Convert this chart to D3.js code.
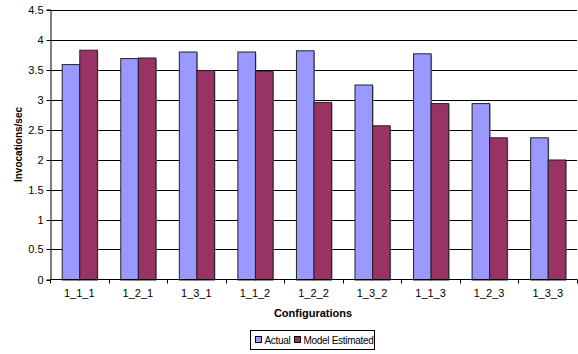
<!DOCTYPE html>
<html>
<head>
<meta charset="utf-8">
<script src="https://cdn.jsdelivr.net/npm/d3@7"></script>
<style>
  html, body { margin: 0; padding: 0; background: #fff; }
  svg { display: block; font-family: "Liberation Sans", Arial, sans-serif; }
</style>
</head>
<body>
<svg id="chart" width="578" height="354"></svg>
<script>
// Throughput per configuration: measured vs. model-estimated
const categories = ["1_1_1", "1_2_1", "1_3_1", "1_1_2", "1_2_2", "1_3_2", "1_1_3", "1_2_3", "1_3_3"];
const actual = [3.59, 3.69, 3.80, 3.80, 3.82, 3.25, 3.77, 2.94, 2.37];
const modelEstimated = [3.83, 3.70, 3.49, 3.48, 2.96, 2.57, 2.94, 2.37, 2.00];
const seriesNames = ["Actual", "Model Estimated"];
const yTicks = [0, 0.5, 1, 1.5, 2, 2.5, 3, 3.5, 4, 4.5];
const yTickLabels = ["0", "0.5", "1", "1.5", "2", "2.5", "3", "3.5", "4", "4.5"];

const colors = ["#9999FF", "#993366"];
const series = [actual, modelEstimated];

const svg = d3.select("#chart");
const margin = { left: 50, right: 1, top: 9.5, bottom: 75 };
const W = 578, H = 354;
const plotBottom = 279.5;

const x = d3.scaleBand()
  .domain(categories)
  .range([margin.left, W - margin.right])
  .paddingInner(0.4)
  .paddingOuter(0.2);

const xInner = d3.scaleBand()
  .domain(seriesNames)
  .range([0, x.bandwidth()]);

const y = d3.scaleLinear()
  .domain([0, 4.5])
  .range([plotBottom, margin.top]);

// horizontal gridlines
svg.append("g")
  .selectAll("line")
  .data(yTicks.filter(d => d > 0))
  .join("line")
  .attr("x1", margin.left)
  .attr("x2", W - margin.right)
  .attr("y1", d => Math.round(y(d)) + 0.5)
  .attr("y2", d => Math.round(y(d)) + 0.5)
  .attr("stroke", "#000")
  .attr("stroke-width", 1);

// bars with a light drop shadow
const groups = svg.append("g")
  .selectAll("g")
  .data(categories)
  .join("g")
  .attr("transform", d => `translate(${x(d)},0)`);

seriesNames.forEach((name, si) => {
  groups.append("rect")
    .attr("x", xInner(name) + 1.5)
    .attr("y", (d, i) => y(series[si][i]) + 1.5)
    .attr("width", xInner.bandwidth())
    .attr("height", (d, i) => plotBottom - y(series[si][i]) - 1.5)
    .attr("fill", "#999");
  groups.append("rect")
    .attr("x", xInner(name) + 0.5)
    .attr("y", (d, i) => y(series[si][i]) + 0.5)
    .attr("width", xInner.bandwidth())
    .attr("height", (d, i) => plotBottom - y(series[si][i]))
    .attr("fill", colors[si])
    .attr("stroke", "#222")
    .attr("stroke-width", 1);
});

// y axis
const yAxis = d3.axisLeft(y)
  .tickValues(yTicks)
  .tickFormat((d, i) => yTickLabels[i])
  .tickSize(4)
  .tickPadding(3);
const gy = svg.append("g")
  .attr("transform", `translate(${margin.left + 0.5},0)`)
  .call(yAxis);
gy.select(".domain").attr("stroke", "#000");
gy.selectAll(".tick line").attr("stroke", "#000")
  .attr("transform", function () { return "translate(0,0)"; });
gy.selectAll(".tick").attr("transform", d => `translate(0,${Math.round(y(d)) + 0.5})`);
gy.selectAll("text").attr("font-size", 11).attr("fill", "#000")
  .attr("font-family", "'Liberation Sans', Arial, sans-serif");

// x axis: ticks between categories
const gx = svg.append("g").attr("transform", `translate(0,${plotBottom})`);
gx.append("line")
  .attr("x1", margin.left).attr("x2", W - margin.right)
  .attr("y1", 0).attr("y2", 0)
  .attr("stroke", "#000");
const step = x.step();
const boundaries = d3.range(categories.length + 1).map(i => margin.left + i * (W - margin.right - margin.left) / categories.length);
gx.selectAll("line.tk")
  .data(boundaries)
  .join("line")
  .attr("class", "tk")
  .attr("x1", d => Math.round(d) + 0.5)
  .attr("x2", d => Math.round(d) + 0.5)
  .attr("y1", 0).attr("y2", 4)
  .attr("stroke", "#000");
gx.selectAll("text")
  .data(categories)
  .join("text")
  .attr("x", d => x(d) + x.bandwidth() / 2)
  .attr("y", 17)
  .attr("text-anchor", "middle")
  .attr("font-size", 11)
  .attr("fill", "#000")
  .text(d => d);

// axis titles
svg.append("text")
  .attr("x", 313)
  .attr("y", 317)
  .attr("text-anchor", "middle")
  .attr("font-size", 11)
  .attr("font-weight", "bold")
  .text("Configurations");

svg.append("text")
  .attr("transform", `translate(22,${(plotBottom + margin.top) / 2}) rotate(-90)`)
  .attr("text-anchor", "middle")
  .attr("font-size", 10)
  .attr("font-weight", "bold")
  .text("Invocations/sec");

// legend
const legend = svg.append("g").attr("transform", "translate(250.5,330.5)");
legend.append("rect")
  .attr("width", 124).attr("height", 19)
  .attr("fill", "#fff").attr("stroke", "#000");
const legendItems = [
  { name: seriesNames[0], color: colors[0], x: 5 },
  { name: seriesNames[1], color: colors[1], x: 44 }
];
legendItems.forEach(it => {
  legend.append("rect")
    .attr("x", it.x).attr("y", 6)
    .attr("width", 6).attr("height", 6)
    .attr("fill", it.color).attr("stroke", "#000");
  legend.append("text")
    .attr("x", it.x + 9).attr("y", 13.5)
    .attr("font-size", 10)
    .attr("letter-spacing", -0.3)
    .text(it.name);
});
</script>
</body>
</html>
